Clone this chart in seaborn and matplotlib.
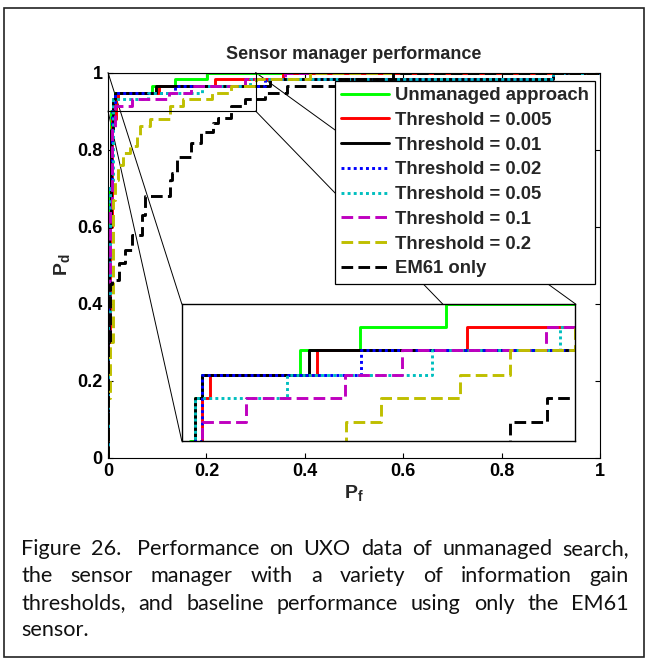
import matplotlib
matplotlib.use("Agg")
import matplotlib.pyplot as plt
import seaborn as sns
import pandas as pd
from matplotlib.patches import Rectangle, ConnectionPatch

# ---------------- data ----------------
labels = ["Unmanaged approach", "Threshold = 0.005", "Threshold = 0.01",
          "Threshold = 0.02", "Threshold = 0.05", "Threshold = 0.1",
          "Threshold = 0.2", "EM61 only"]

unmanaged_pf = [0, 0, 0.003, 0.006, 0.0099, 0.0152, 0.09, 0.136, 0.201, 1.0]
unmanaged_pd = [0, 0.35, 0.70, 0.90, 0.931, 0.948, 0.966, 0.983, 1.0, 1.0]

t005_pf = [0, 0, 0.004, 0.008, 0.0155, 0.0213, 0.103, 0.217, 0.355, 1.0]
t005_pd = [0, 0.30, 0.60, 0.88, 0.931, 0.948, 0.966, 0.983, 1.0, 1.0]

t01_pf = [0, 0, 0.003, 0.006, 0.0099, 0.0152, 0.0972, 0.33, 0.905, 1.0]
t01_pd = [0, 0.30, 0.60, 0.85, 0.931, 0.948, 0.966, 0.983, 1.0, 1.0]

t02_pf = [0, 0, 0.004, 0.008, 0.0152, 0.1365, 0.32, 0.905, 1.0]
t02_pd = [0, 0.39, 0.70, 0.90, 0.948, 0.966, 0.983, 1.0, 1.0]

t05_pf = [0, 0, 0.004, 0.0099, 0.0805, 0.1906, 0.288, 0.905, 1.0]
t05_pd = [0, 0.37, 0.70, 0.931, 0.948, 0.966, 0.983, 1.0, 1.0]

t1_pf = [0, 0, 0.004, 0.008, 0.0152, 0.0486, 0.1245, 0.168, 0.2777, 0.36, 1.0]
t1_pd = [0, 0.31, 0.65, 0.85, 0.914, 0.931, 0.948, 0.966, 0.983, 1.0, 1.0]

t2_pf = [0, 0, 0.005, 0.011, 0.015, 0.02, 0.03, 0.045, 0.058, 0.065, 0.085,
         0.125, 0.152, 0.212, 0.25, 0.30, 0.41, 1.0]
t2_pd = [0, 0.155, 0.30, 0.67, 0.72, 0.76, 0.79, 0.81, 0.835, 0.862, 0.88,
         0.914, 0.931, 0.948, 0.966, 0.983, 1.0, 1.0]

em61_pf = [0, 0, 0.004, 0.008, 0.022, 0.035, 0.048, 0.07, 0.075, 0.126, 0.13,
           0.14, 0.168, 0.19, 0.213, 0.224, 0.25, 0.278, 0.32, 0.363, 0.47,
           0.58, 1.0]
em61_pd = [0, 0.29, 0.45, 0.46, 0.506, 0.539, 0.578, 0.63, 0.68, 0.72, 0.74,
           0.78, 0.816, 0.846, 0.868, 0.881, 0.914, 0.931, 0.948, 0.966, 0.983,
           1.0, 1.0]

tick_vals = [0, 0.2, 0.4, 0.6, 0.8, 1]
tick_labels = ["0", "0.2", "0.4", "0.6", "0.8", "1"]

caption_lines = [
    "Figure 26.  Performance on UXO data of unmanaged search,",
    "the sensor manager with a variety of information gain",
    "thresholds, and baseline performance using only the EM61",
    "sensor.",
]

# ---------------- styling ----------------
colors = ["#00FF00", "#FF0000", "#000000", "#0000FF", "#00BFBF", "#BF00BF",
          "#BFBF00", "#000000"]
DASH = (0, (4, 1.8))
DOT = (0, (1, 1.1))
styles = ["-", "-", "-", DOT, DOT, DASH, DASH, DASH]
xs_all = [unmanaged_pf, t005_pf, t01_pf, t02_pf, t05_pf, t1_pf, t2_pf, em61_pf]
ys_all = [unmanaged_pd, t005_pd, t01_pd, t02_pd, t05_pd, t1_pd, t2_pd, em61_pd]

sns.set_theme(style="ticks")
plt.rcParams["font.family"] = ["Liberation Sans", "DejaVu Sans"]
plt.rcParams["font.weight"] = "bold"
plt.rcParams["mathtext.fontset"] = "custom"
plt.rcParams["mathtext.rm"] = "Liberation Sans:bold"
plt.rcParams["mathtext.bf"] = "Liberation Sans:bold"
plt.rcParams["mathtext.it"] = "Liberation Sans:bold"
plt.rcParams["axes.edgecolor"] = "black"
plt.rcParams["axes.linewidth"] = 0.8

W, H = 650, 665
fig = plt.figure(figsize=(W / 100, H / 100), dpi=100, facecolor="white")
ax = fig.add_axes([108 / W, 1 - 457.5 / H, 492 / W, 385 / H])


def draw_series(a):
    for lab, xs, ys, c, ls in zip(labels, xs_all, ys_all, colors, styles):
        df = pd.DataFrame({"Pf": xs, "Pd": ys})
        sns.lineplot(data=df, x="Pf", y="Pd", ax=a, color=c, linestyle=ls,
                     linewidth=2.1, drawstyle="steps-post", estimator=None,
                     sort=False, label=lab, legend=False)


draw_series(ax)
ax.set_xlim(0, 1)
ax.set_ylim(0, 1)
ax.set_xticks(tick_vals)
ax.set_xticklabels(tick_labels)
ax.set_yticks(tick_vals)
ax.set_yticklabels(tick_labels)
ax.tick_params(direction="in", length=3.5, width=0.8, top=True, right=True,
               labelsize=13, pad=4, colors="black")
for s in ax.spines.values():
    s.set_visible(True)
    s.set_color("black")
    s.set_linewidth(0.8)
ax.set_title("Sensor manager performance", fontsize=13, fontweight="bold",
             pad=10)
ax.set_xlabel(r"$\mathbf{P_f}$", fontsize=14, labelpad=2)
ax.set_ylabel(r"$\mathbf{P_d}$", fontsize=14, labelpad=4)

# legend
handles = ax.get_lines()[:len(labels)]
leg = ax.legend(handles, labels, loc="upper right",
                bbox_to_anchor=(0.99, 0.979), borderaxespad=0,
                fontsize=13.3, frameon=True, fancybox=False, framealpha=1,
                edgecolor="black", handlelength=2.6, handletextpad=0.3,
                labelspacing=0.42, borderpad=0.35)
leg.get_frame().set_linewidth(0.9)
for t in leg.get_texts():
    t.set_fontweight("bold")

# inset (magnified view)
axins = ax.inset_axes([0.15, 0.043, 0.80, 0.356], transform=ax.transData)
draw_series(axins)
axins.set_xlim(0, 0.3)
axins.set_ylim(0.9, 1.0)
axins.set_xticks([])
axins.set_yticks([])
axins.set_xlabel("")
axins.set_ylabel("")
axins.set_facecolor("white")
for s in axins.spines.values():
    s.set_visible(True)
    s.set_color("black")
    s.set_linewidth(1.0)
if axins.get_legend() is not None:
    axins.get_legend().remove()

# zoom rectangle and connectors
x0z, x1z, y0z, y1z = 0.0, 0.3, 0.9, 1.0
ax.add_patch(Rectangle((x0z, y0z), x1z - x0z, y1z - y0z, fill=False,
                       ec="black", lw=0.8, zorder=3))
for (xa, ya), (xb, yb) in [((x0z, y1z), (0, 1)), ((x0z, y0z), (0, 0)),
                           ((x1z, y1z), (1, 1)), ((x1z, y0z), (1, 0))]:
    cp = ConnectionPatch(xyA=(xa, ya), coordsA=ax.transData,
                         xyB=(xb, yb), coordsB=axins.transAxes,
                         color="black", lw=0.7, zorder=1)
    ax.add_artist(cp)

# outer frame
fig.patches.append(Rectangle((4 / W, 1 - 657 / H), 640 / W, 649 / H,
                             transform=fig.transFigure, fill=False,
                             ec="#222222", lw=1.2))

# caption (justified)
renderer = fig.canvas.get_renderer()
cap_family = ["Lato", "DejaVu Sans"]
left_px, right_px = 21, 629


def text_width(s, fs):
    t = fig.text(0, 0, s, fontsize=fs, family=cap_family, fontweight="normal")
    w = t.get_window_extent(renderer).width
    t.remove()
    return w


# size chosen so that the first line (with its double space) nearly fills
nat = text_width(caption_lines[0], 14)
cap_fs = 14 * (right_px - left_px - 4) / nat * 0.95
baselines = [555, 582.5, 609.5, 636.5]
space_w = text_width("a a", cap_fs) - text_width("aa", cap_fs)
for i, line in enumerate(caption_lines):
    words = line.split(" ")
    # an empty token marks an extra (double) space
    extra = [1 if (j + 1 < len(words) and words[j + 1] == "") else 0
             for j in range(len(words))]
    pairs = [(w, e) for w, e in zip(words, extra) if w != ""]
    texts = []
    widths = []
    for w, _ in pairs:
        t = fig.text(0, 0, w, fontsize=cap_fs, family=cap_family,
                     fontweight="normal", va="baseline", ha="left",
                     color="#111111")
        texts.append(t)
        widths.append(t.get_window_extent(renderer).width)
    n_extra = sum(e for _, e in pairs)
    justify = i < len(caption_lines) - 1
    if justify and len(pairs) > 1:
        gap = (right_px - left_px - sum(widths) - n_extra * space_w) / (len(pairs) - 1)
    else:
        gap = space_w
    x = left_px
    for t, w, (_, e) in zip(texts, widths, pairs):
        t.set_position((x / W, 1 - baselines[i] / H))
        x += w + gap + e * space_w

fig.savefig("out.png", dpi=100, facecolor="white")
